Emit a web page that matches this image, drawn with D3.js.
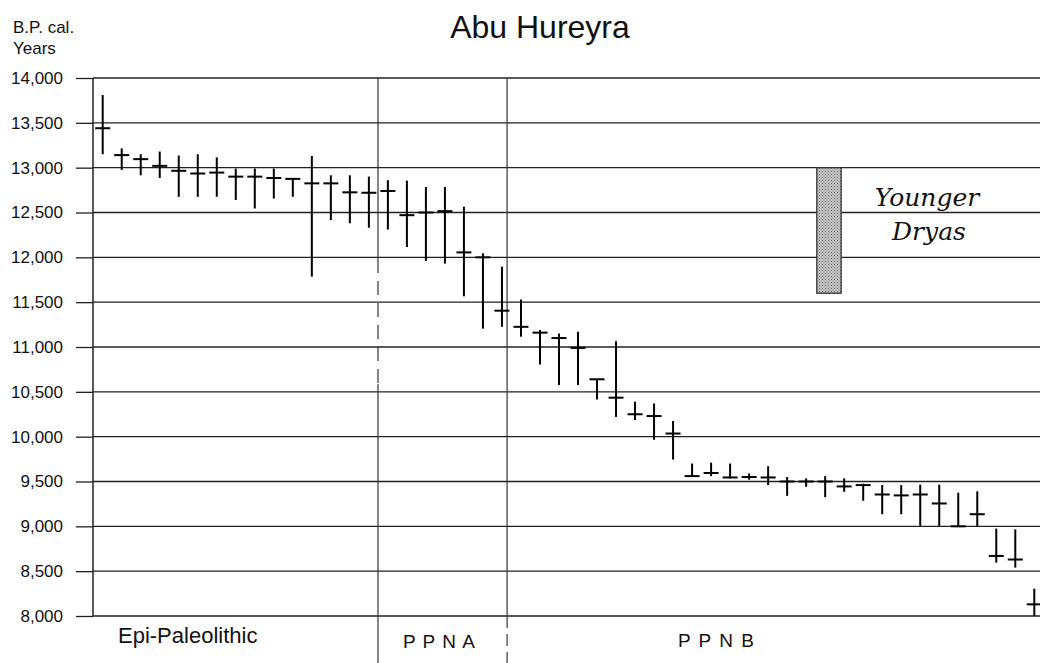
<!DOCTYPE html>
<html>
<head>
<meta charset="utf-8">
<script src="https://cdn.jsdelivr.net/npm/d3@7"></script>
<style>
  html, body { margin: 0; padding: 0; background: #fff; }
  svg { display: block; }
</style>
</head>
<body>
<svg id="chart" width="1040" height="663"></svg>
<script>
// ---- DATA ----
const sampleIds = d3.range(1, 51).map(String);
const centralDates = [
  13440, 13140, 13095, 13020, 12965, 12935, 12945, 12900, 12900, 12885,
  12875, 12825, 12825, 12725, 12720, 12740, 12470, 12500, 12515, 12055,
  12000, 11405, 11225, 11160, 11100, 10990, 10640, 10435, 10250, 10230,
  10035, 9560, 9595, 9545, 9550, 9545, 9500, 9500, 9500, 9445,
  9460, 9355, 9345, 9355, 9255, 9000, 9135, 8670, 8630, 8130
];
const rangeUpper = [
  13810, 13215, 13150, 13180, 13135, 13150, 13115, 12990, 12990, 12990,
  12875, 13130, 12915, 12915, 12900, 12860, 12855, 12785, 12785, 12565,
  12045, 11895, 11530, 11190, 11150, 11170, 10640, 11065, 10390, 10370,
  10175, 9700, 9710, 9700, 9590, 9670, 9550, 9535, 9560, 9535,
  9475, 9460, 9460, 9465, 9465, 9375, 9390, 8975, 8965, 8305
];
const rangeLower = [
  13150, 12975, 12915, 12885, 12675, 12675, 12675, 12640, 12545, 12655,
  12675, 11785, 12415, 12380, 12330, 12310, 12115, 11960, 11930, 11565,
  11205, 11225, 11115, 10805, 10575, 10575, 10415, 10220, 10185, 9965,
  9745, 9550, 9560, 9535, 9520, 9460, 9340, 9440, 9325, 9385,
  9285, 9135, 9135, 9005, 9005, 9000, 9000, 8595, 8540, 8000
];
const yTicks = [8000, 8500, 9000, 9500, 10000, 10500, 11000, 11500, 12000, 12500, 13000, 13500, 14000];
const periodNames = ["Epi-Paleolithic", "P P N A", "P P N B"];
const youngerDryas = [13000, 11600];

(function draw() {
  const svg = d3.select("#chart");
  const mLeft = 93, mRight = 1040, mTop = 78, mBottom = 616;
  const FONT = "'Liberation Sans', Arial, Helvetica, sans-serif";

  const y = d3.scaleLinear().domain([8000, 14000]).range([mBottom, mTop]);
  const x = d3.scalePoint().domain(sampleIds).range([102.7, 1034.3]).padding(0);
  const step = x.step();
  const xi = i => x.range()[0] + i * step;

  const defs = svg.append("defs");
  const pat = defs.append("pattern").attr("id", "stip").attr("width", 3).attr("height", 3)
    .attr("patternUnits", "userSpaceOnUse");
  pat.append("rect").attr("width", 3).attr("height", 3).attr("fill", "#c8c8c8");
  pat.append("rect").attr("x", 0).attr("y", 0).attr("width", 1).attr("height", 1).attr("fill", "#666");
  pat.append("rect").attr("x", 1.5).attr("y", 1.5).attr("width", 1).attr("height", 1).attr("fill", "#777");

  svg.append("text").attr("x", 540).attr("y", 38).attr("text-anchor", "middle")
    .attr("font-family", FONT).attr("font-size", 32).attr("fill", "#111").text("Abu Hureyra");

  svg.append("text").attr("x", 13).attr("y", 33).attr("font-family", FONT)
    .attr("font-size", 17).attr("fill", "#111").text("B.P. cal.");
  svg.append("text").attr("x", 13).attr("y", 54).attr("font-family", FONT)
    .attr("font-size", 17).attr("fill", "#111").text("Years");

  svg.append("g").selectAll("line").data(yTicks).join("line")
    .attr("x1", mLeft).attr("x2", mRight)
    .attr("y1", d => y(d)).attr("y2", d => y(d))
    .attr("stroke", "#222").attr("stroke-width", 1.3);

  const yAxis = d3.axisLeft(y).tickValues(yTicks).tickFormat(d3.format(",")).tickSize(17).tickPadding(13);
  const gy = svg.append("g").attr("transform", `translate(${mLeft},0)`).call(yAxis);
  gy.select(".domain").remove();
  gy.selectAll(".tick line").attr("stroke", "#222").attr("stroke-width", 1.3);
  gy.selectAll(".tick text").attr("font-family", FONT).attr("font-size", 17).attr("fill", "#111");
  svg.append("line").attr("x1", mLeft).attr("x2", mLeft).attr("y1", mTop).attr("y2", mBottom)
    .attr("stroke", "#222").attr("stroke-width", 1.5);

  const b1 = xi(14.48), b2 = xi(21.27);
  function vline(xp, y1, y2, dash) {
    svg.append("line").attr("x1", xp).attr("x2", xp).attr("y1", y1).attr("y2", y2)
      .attr("stroke", "#333").attr("stroke-width", 1.2)
      .attr("stroke-dasharray", dash || null);
  }
  vline(b1, mTop, 259);
  vline(b1, 259, 384, "14,8");
  vline(b1, 384, 663);
  vline(b2, mTop, mBottom);
  vline(b2, mBottom, 663, "12,6");

  svg.append("text").attr("x", 118).attr("y", 643).attr("font-family", FONT)
    .attr("font-size", 22).attr("fill", "#111").text(periodNames[0]);
  svg.append("text").attr("x", 403).attr("y", 648).attr("font-family", FONT)
    .attr("font-size", 19).attr("letter-spacing", 1).attr("fill", "#111").text(periodNames[1]);
  svg.append("text").attr("x", 678).attr("y", 647).attr("font-family", FONT)
    .attr("font-size", 19).attr("letter-spacing", 1.5).attr("fill", "#111").text(periodNames[2]);

  const ydX0 = xi(37.56), ydX1 = xi(38.84);
  svg.append("rect").attr("x", ydX0).attr("y", y(youngerDryas[0]))
    .attr("width", ydX1 - ydX0).attr("height", y(youngerDryas[1]) - y(youngerDryas[0]))
    .attr("fill", "url(#stip)").attr("stroke", "#333").attr("stroke-width", 1.3);
  svg.append("text").attr("x", 927).attr("y", 206).attr("text-anchor", "middle")
    .attr("font-family", "'DejaVu Serif', serif").attr("font-style", "italic")
    .attr("font-size", 25).attr("fill", "#111").text("Younger");
  svg.append("text").attr("x", 929).attr("y", 240).attr("text-anchor", "middle")
    .attr("font-family", "'DejaVu Serif', serif").attr("font-style", "italic")
    .attr("font-size", 25).attr("fill", "#111").text("Dryas");

  const data = sampleIds.map((id, i) => ({ id, c: centralDates[i], hi: rangeUpper[i], lo: rangeLower[i] }));
  const g = svg.append("g");
  g.selectAll("line.v").data(data).join("line").attr("class", "v")
    .attr("x1", d => x(d.id)).attr("x2", d => x(d.id))
    .attr("y1", d => y(d.hi)).attr("y2", d => y(d.lo))
    .attr("stroke", "#000").attr("stroke-width", 2);
  g.selectAll("line.h").data(data).join("line").attr("class", "h")
    .attr("x1", d => x(d.id) - 7.5).attr("x2", d => x(d.id) + 7.5)
    .attr("y1", d => y(d.c)).attr("y2", d => y(d.c))
    .attr("stroke", "#000").attr("stroke-width", 2);
})();
</script>
</body>
</html>
